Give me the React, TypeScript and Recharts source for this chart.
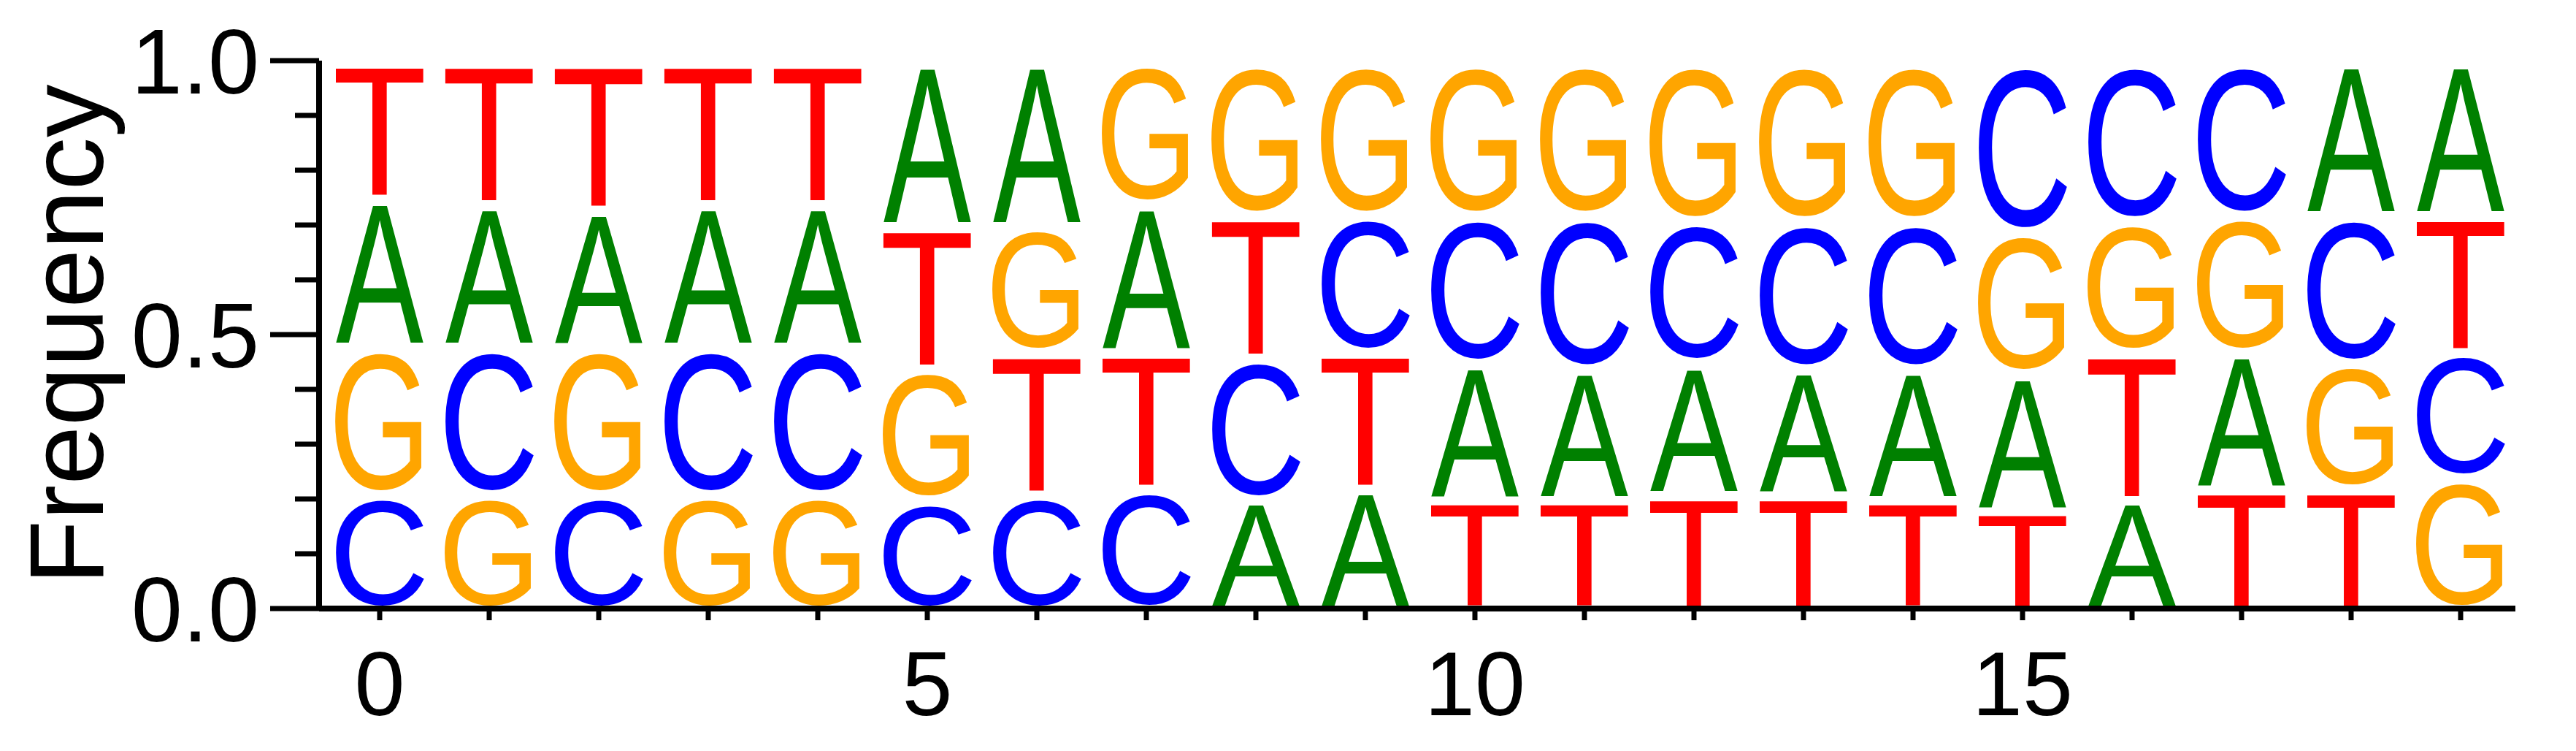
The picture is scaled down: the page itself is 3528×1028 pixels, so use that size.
import { Bar, BarChart, XAxis, YAxis } from "recharts";

// sequence logo: per-position letter order (bottom → top) and cumulative tops
const positions = Array.from({ length: 20 }, (_, i) => i);
const letterOrders = [
  "CGAT", "GCAT", "CGAT", "GCAT", "GCAT", "CGTA", "CTGA", "CTAG", "ACTG", "ATCG",
  "TACG", "TACG", "TACG", "TACG", "TACG", "TAGC", "ATGC", "TAGC", "TGCA", "GCTA",
];
const stackTops = [
  [0.21, 0.48, 0.75, 1], [0.21, 0.48, 0.74, 1], [0.21, 0.48, 0.73, 1], [0.21, 0.48, 0.74, 1],
  [0.21, 0.48, 0.74, 1], [0.2, 0.44, 0.7, 1], [0.21, 0.47, 0.7, 1], [0.22, 0.47, 0.74, 1],
  [0.2, 0.46, 0.72, 1], [0.22, 0.47, 0.72, 1], [0.2, 0.45, 0.72, 1], [0.2, 0.44, 0.72, 1],
  [0.21, 0.45, 0.71, 1], [0.21, 0.44, 0.71, 1], [0.2, 0.44, 0.71, 1], [0.18, 0.43, 0.69, 1],
  [0.2, 0.47, 0.71, 1], [0.22, 0.47, 0.72, 1], [0.22, 0.45, 0.72, 1], [0.24, 0.47, 0.72, 1],
];
const yTicks = [0, 0.1, 0.2, 0.3, 0.4, 0.5, 0.6, 0.7, 0.8, 0.9, 1];
const xLabelTicks = [0, 5, 10, 15];

const COLORS: Record<string, string> = { A: "#008000", C: "#0000ff", G: "#ffa500", T: "#ff0000" };
// ink extents (em) for Liberation Sans: left bearing, right edge, cap height, overshoot
const INK: Record<string, [number, number, number, number]> = {
  A: [0, 0.667, 0.716, 0],
  C: [0.05, 0.68, 0.74, 0.012],
  G: [0.055, 0.72, 0.74, 0.012],
  T: [0.023, 0.59, 0.716, 0],
};
const FONT = "'Liberation Sans', Arial, sans-serif";

const data = positions.map((p) => {
  const row: Record<string, number | string> = { pos: p };
  let prev = 0;
  stackTops[p].forEach((t, k) => {
    row[`s${k}`] = +(t - prev).toFixed(3);
    row[`l${k}`] = letterOrders[p][k];
    prev = t;
  });
  return row;
});

const letterShape = (k: number) => (props: any) => {
  const { x, y, width, height, payload } = props;
  const letter = payload[`l${k}`] as string;
  const [l, r, cap, over] = INK[letter];
  const fs = 100;
  const pad = 4;
  const h = height - pad * 2;
  const sx = width / ((r - l) * fs);
  const sy = h / (cap * fs);
  const bottom = y + height - pad - over * fs * sy;
  return (
    <text
      transform={`translate(${x - l * fs * sx},${bottom}) scale(${sx},${sy})`}
      fontSize={fs}
      fontFamily={FONT}
      fill={COLORS[letter]}
    >
      {letter}
    </text>
  );
};

const YTick = (props: any) => {
  const { x, y, payload } = props;
  const v = payload.value as number;
  const major = Math.abs(v * 2 - Math.round(v * 2)) < 1e-6;
  const len = major ? 67 : 33;
  return (
    <g>
      <line x1={x - len} x2={x} y1={y} y2={y} stroke="#000" strokeWidth={7} />
      {major && (
        <text x={x - 82} y={y} dy="0.36em" textAnchor="end" fontSize={126} fontFamily={FONT} fill="#000">
          {v.toFixed(1)}
        </text>
      )}
    </g>
  );
};

const XTick = (props: any) => {
  const { x, y, payload } = props;
  const v = payload.value as number;
  return (
    <g>
      <line x1={x} x2={x} y1={y} y2={y + 16} stroke="#000" strokeWidth={7} />
      {xLabelTicks.includes(v) && (
        <text x={x} y={y + 146} textAnchor="middle" fontSize={124} fontFamily={FONT} fill="#000">
          {v}
        </text>
      )}
    </g>
  );
};

export default function App() {
  return (
    <div style={{ position: "absolute", left: 0, top: 0, width: 3528, height: 1028, background: "#fff" }}>
      <BarChart
        width={3528}
        height={1028}
        data={data}
        margin={{ top: 83, right: 83, bottom: 0, left: 0 }}
        barCategoryGap="10%"
      >
        <XAxis
          dataKey="pos"
          interval={0}
          height={195}
          padding={{ left: 8, right: 0 }}
          axisLine={{ stroke: "#000", strokeWidth: 8 }}
          tickLine={false}
          tickSize={0}
          tickMargin={0}
          tick={<XTick />}
        />
        <YAxis
          width={437}
          domain={[0, 1]}
          ticks={yTicks}
          interval={0}
          allowDataOverflow
          axisLine={{ stroke: "#000", strokeWidth: 8 }}
          tickLine={false}
          tickSize={0}
          tickMargin={0}
          tick={<YTick />}
          label={{
            value: "Frequency",
            angle: -90,
            position: "insideLeft",
            dx: 85,
            style: { fontSize: 145, fontFamily: FONT, fill: "#000", textAnchor: "middle" },
          }}
        />
        {[0, 1, 2, 3].map((k) => (
          <Bar key={k} dataKey={`s${k}`} stackId="logo" shape={letterShape(k)} isAnimationActive={false} />
        ))}
      </BarChart>
    </div>
  );
}
